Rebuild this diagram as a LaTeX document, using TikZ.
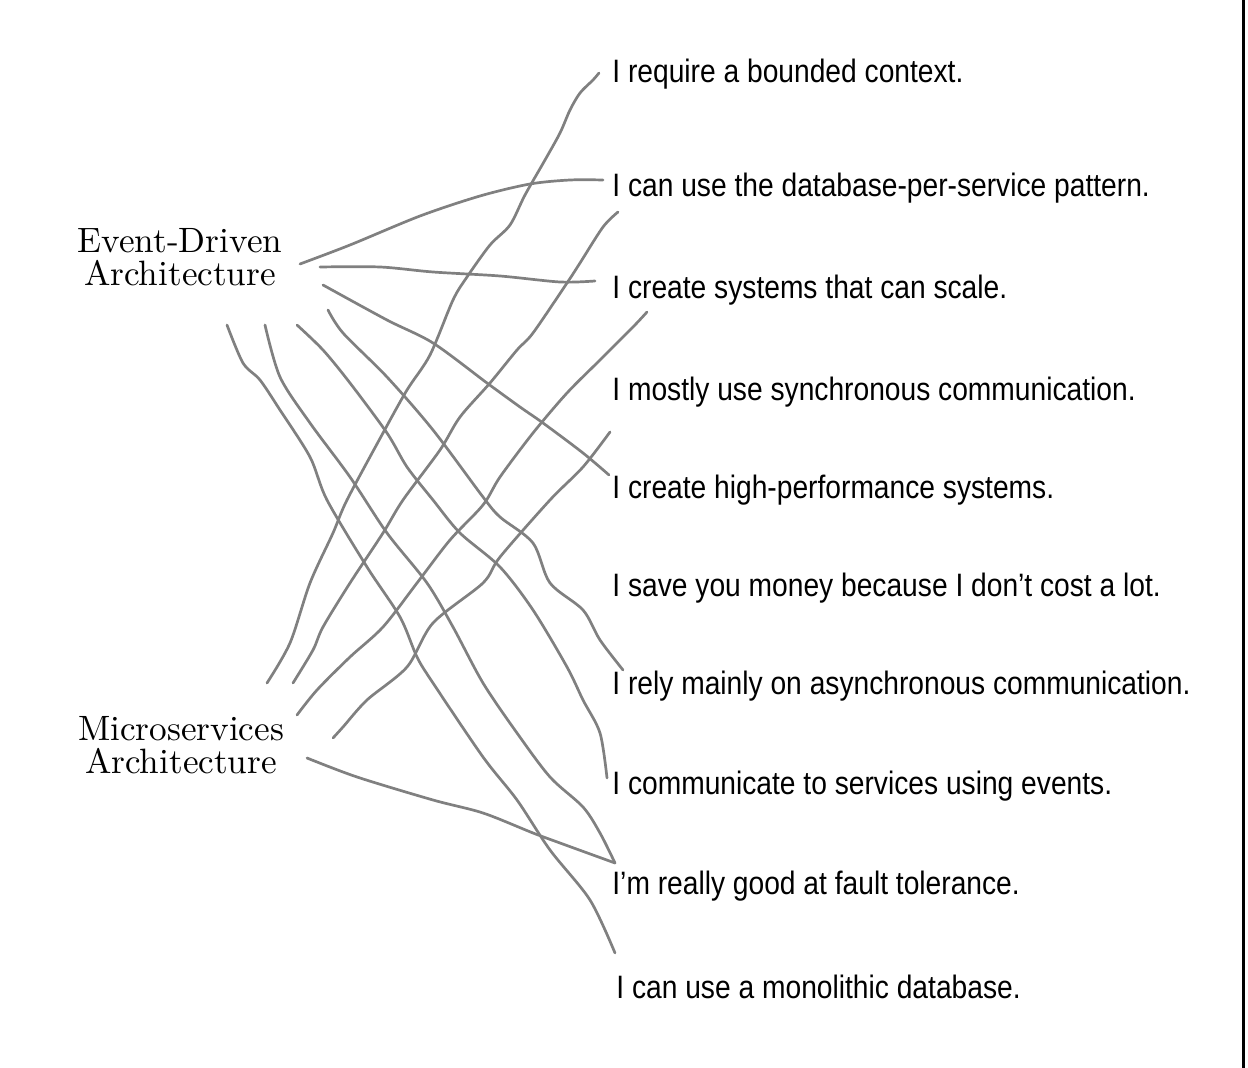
\documentclass[tikz,border=0pt]{standalone}
\usepackage{fontspec}
\newfontfamily\claimfont{Liberation Sans}[FakeStretch=0.87]
\newfontfamily\archfont{lmroman10-regular.otf}
\begin{document}
\begin{tikzpicture}[x=0.5pt, y=-0.5pt,
    match/.style={draw=black!50, line width=1.35pt, line cap=round, line join=round},
    claim/.style={anchor=base west, inner sep=0pt, font=\claimfont\fontsize{16.2}{19}\selectfont},
    arch/.style={anchor=base, align=center, inner sep=0pt, font=\archfont\fontsize{17.6}{16.5}\selectfont}]

%%Paramaters
%% left edge of the claims
\def\claimX{612}

\useasboundingbox (0,0) rectangle (1248,1068);

    %% the two architectures (base = last line)
    \node[arch] (eda) at (180, 286) {Event-Driven\\Architecture};
    \node[arch] (msa) at (181, 774) {Microservices\\Architecture};

    %% the claims
    \node[claim] (bounded) at (\claimX, 83) {I require a bounded context.};
    \node[claim] (dbps)    at (\claimX, 197) {I can use the database-per-service pattern.};
    \node[claim] (scale)   at (\claimX, 299) {I create systems that can scale.};
    \node[claim] (sync)    at (\claimX, 401) {I mostly use synchronous communication.};
    \node[claim] (perf)    at (\claimX, 499) {I create high-performance systems.};
    \node[claim] (money)   at (\claimX, 597) {I save you money because I don’t cost a lot.};
    \node[claim] (async)   at (\claimX, 695) {I rely mainly on asynchronous communication.};
    \node[claim] (events)  at (\claimX, 795) {I communicate to services using events.};
    \node[claim] (fault)   at (\claimX, 895) {I’m really good at fault tolerance.};
    \node[claim] (mono)    at (\claimX+4, 998) {I can use a monolithic database.};

    %% loose ends next to the architectures
    \coordinate (eda-dbps)   at (300,264);
    \coordinate (eda-scale)  at (320,267);
    \coordinate (eda-perf)   at (323,285);
    \coordinate (eda-async)  at (328,310);
    \coordinate (eda-events) at (297,325);
    \coordinate (eda-fault)  at (265,325);
    \coordinate (eda-mono)   at (227,325);

    \coordinate (msa-bounded) at (267,683);
    \coordinate (msa-dbps)    at (293,683);
    \coordinate (msa-scale)   at (297,715);
    \coordinate (msa-perf)    at (333,738);
    \coordinate (msa-fault)   at (307,758);

    %% loose ends next to the claims
    \coordinate (bounded-m) at (599,73);
    \coordinate (dbps-e)    at (603,180);
    \coordinate (dbps-m)    at (618,212);
    \coordinate (scale-e)   at (595,281);
    \coordinate (scale-m)   at (647,312);
    \coordinate (perf-m)    at (610,432);
    \coordinate (perf-e)    at (609,475);
    \coordinate (async-e)   at (623,670);
    \coordinate (events-e)  at (607,778);
    \coordinate (fault-e)   at (615,863);
    \coordinate (mono-e)    at (615,953);

    %% Event-Driven Architecture matches
    \draw[match] plot[smooth] coordinates {(eda-dbps) (350,245) (420,216) (480,196) (530,184) (570,180) (dbps-e)};
    \draw[match] plot[smooth] coordinates {(eda-scale) (380,267) (433,272) (500,276) (560,282) (scale-e)};
    \draw[match] plot[smooth] coordinates {(eda-perf) (387,320) (433,343) (487,383) (520,407) (543,423) (583,453) (perf-e)};
    \draw[match] plot[smooth] coordinates {(eda-async) (343,333) (387,377) (433,430) (483,497) (500,517) (533,543) (550,583) (583,610) (600,640) (async-e)};
    \draw[match] plot[smooth] coordinates {(eda-events) (323,350) (350,383) (387,433) (407,467) (433,500) (460,533) (500,567) (533,610) (567,667) (583,700) (600,733) (events-e)};
    \draw[match] plot[smooth] coordinates {(eda-fault) (280,377) (310,423) (350,477) (387,533) (427,583) (453,627) (483,683) (517,733) (550,777) (583,807) (600,833) (fault-e)};
    \draw[match] plot[smooth] coordinates {(eda-mono) (243,363) (260,380) (280,410) (310,457) (327,500) (367,567) (400,617) (417,657) (433,683) (483,757) (517,800) (550,850) (590,900) (mono-e)};

    %% Microservices Architecture matches
    \draw[match] plot[smooth] coordinates {(msa-bounded) (290,643) (310,583) (333,533) (347,500) (383,433) (407,390) (430,355) (453,300) (467,277) (490,245) (510,225) (525,195) (545,160) (560,133) (570,110) (580,93) (593,80) (bounded-m)};
    \draw[match] plot[smooth] coordinates {(msa-dbps) (313,650) (323,627) (350,583) (383,533) (403,500) (440,450) (460,417) (490,383) (517,350) (533,333) (567,283) (580,263) (603,227) (dbps-m)};
    \draw[match] plot[smooth] coordinates {(msa-scale) (317,690) (350,657) (383,627) (417,583) (450,540) (483,505) (500,477) (533,433) (567,393) (600,360) (633,327) (scale-m)};
    \draw[match] plot[smooth] coordinates {(msa-perf) (343,727) (367,700) (407,667) (433,623) (483,583) (500,557) (550,500) (583,467) (perf-m)};
    \draw[match] plot[smooth] coordinates {(msa-fault) (357,777) (433,800) (483,813) (533,833) (560,843) (fault-e)};

    %% page edge
    \draw[line width=1.5pt] (1243,0) -- (1243,1068);

\end{tikzpicture}
\end{document}
